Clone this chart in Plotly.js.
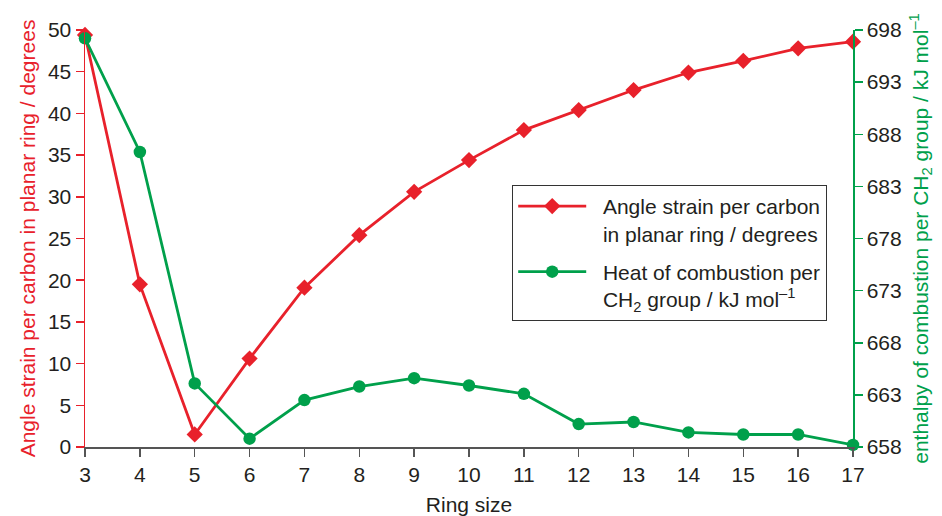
<!DOCTYPE html>
<html>
<head>
<meta charset="utf-8">
<script src="https://cdn.plot.ly/plotly-3.0.1.min.js"></script>
<style>html,body{margin:0;padding:0;background:#fff;}#chart{width:942px;height:516px;}</style>
</head>
<body>
<div id="chart"></div>
<script>
const ringSize = [3, 4, 5, 6, 7, 8, 9, 10, 11, 12, 13, 14, 15, 16, 17];
const angleStrain = [49.4, 19.5, 1.5, 10.6, 19.1, 25.4, 30.6, 34.4, 38.0, 40.4, 42.8, 44.9, 46.3, 47.8, 48.6];
const heatCombustion = [697.2, 686.3, 664.1, 658.8, 662.5, 663.8, 664.6, 663.9, 663.1, 660.2, 660.4, 659.4, 659.2, 659.2, 658.2];
const leftTicks = [0, 5, 10, 15, 20, 25, 30, 35, 40, 45, 50];
const rightTicks = [658, 663, 668, 673, 678, 683, 688, 693, 698];
const xTicks = ringSize;

const RED = '#e8212b';
const GREEN = '#00a04b';
const DARK = '#231f20';
const FONT = 'Liberation Sans, Arial, Helvetica, sans-serif';
const FS = 21;
const PAD = '\u00A0\u00A0';

const traces = [
  {
    x: ringSize, y: angleStrain, type: 'scatter', mode: 'lines+markers',
    name: PAD + 'Angle strain per carbon<br>' + PAD + 'in planar ring / degrees',
    legendgroup: 'a',
    line: {color: RED, width: 2.8},
    marker: {symbol: 'diamond', size: 12.5, color: RED},
    cliponaxis: false
  },
  {
    x: ringSize, y: heatCombustion, type: 'scatter', mode: 'lines+markers',
    name: PAD + 'Heat of combustion per<br>' + PAD + 'CH<sub>2</sub> group / kJ mol<sup>–1</sup>',
    legendgroup: 'b',
    yaxis: 'y2',
    line: {color: GREEN, width: 2.8},
    marker: {symbol: 'circle', size: 12.5, color: GREEN},
    cliponaxis: false
  }
];

const layout = {
  width: 942, height: 516,
  margin: {l: 85, r: 89, t: 30, b: 69},
  paper_bgcolor: '#fff', plot_bgcolor: '#fff',
  font: {family: FONT, size: FS, color: DARK},
  showlegend: true,
  legend: {
    x: 0.556, y: 0.629, xanchor: 'left', yanchor: 'top',
    bgcolor: '#fff', bordercolor: '#333', borderwidth: 1.2,
    font: {family: FONT, size: FS, color: DARK},
    itemwidth: 68, valign: 'top', tracegroupgap: 8
  },
  xaxis: {
    range: [3, 17], tickmode: 'array', tickvals: xTicks,
    showgrid: false, zeroline: false,
    showline: true, linecolor: '#555', linewidth: 1.5,
    ticks: 'outside', ticklen: 8, tickcolor: '#555', tickwidth: 1.5,
    tickfont: {family: FONT, size: FS, color: DARK},
    title: {text: 'Ring size', font: {family: FONT, size: FS, color: DARK}, standoff: 12}
  },
  yaxis: {
    range: [0, 50], tickmode: 'array', tickvals: leftTicks,
    showgrid: false, zeroline: false,
    showline: true, linecolor: RED, linewidth: 1.5,
    ticks: 'outside', ticklen: 8, tickcolor: RED, tickwidth: 1.5,
    tickfont: {family: FONT, size: FS, color: DARK},
    title: {text: 'Angle strain per carbon in planar ring / degrees', font: {family: FONT, size: FS, color: RED}, standoff: 6}
  },
  yaxis2: {
    range: [658, 698], tickmode: 'array', tickvals: rightTicks,
    overlaying: 'y', side: 'right',
    showgrid: false, zeroline: false,
    showline: true, linecolor: GREEN, linewidth: 1.5,
    ticks: 'outside', ticklen: 8, tickcolor: GREEN, tickwidth: 1.5,
    tickfont: {family: FONT, size: FS, color: DARK},
    title: {text: 'enthalpy of combustion per CH<sub>2</sub> group / kJ mol<sup>–1</sup>', font: {family: FONT, size: FS, color: GREEN}, standoff: 12}
  }
};

Plotly.newPlot('chart', traces, layout, {displayModeBar: false, staticPlot: true});
</script>
</body>
</html>
